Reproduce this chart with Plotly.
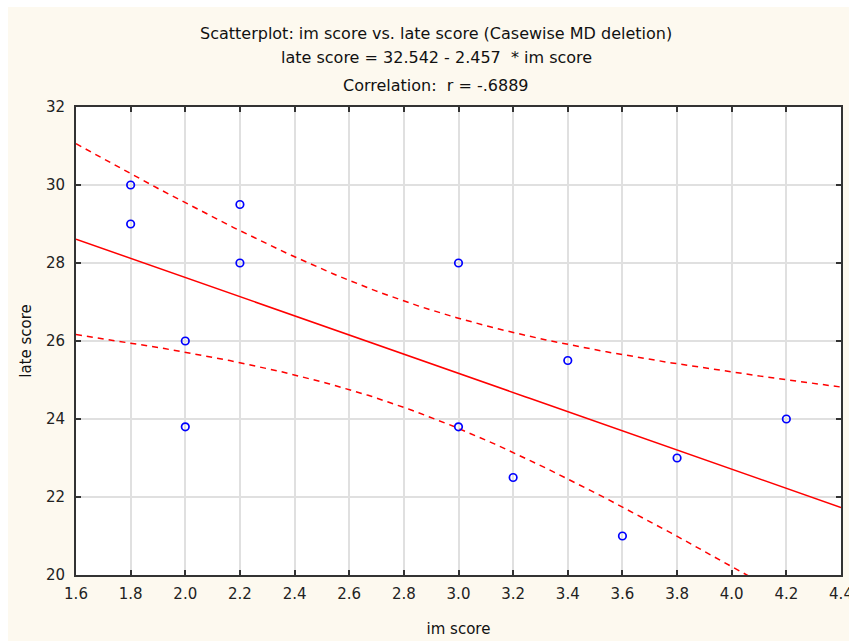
import numpy as np
import plotly.graph_objects as go

# Data
im_score = [1.8, 1.8, 2.2, 2.2, 2.0, 2.0, 3.0, 3.0, 3.4, 3.2, 3.6, 3.8, 4.2]
late_score = [30.0, 29.0, 29.5, 28.0, 26.0, 23.8, 28.0, 23.8, 25.5, 22.5, 21.0, 23.0, 24.0]
x_ticks = [1.6, 1.8, 2.0, 2.2, 2.4, 2.6, 2.8, 3.0, 3.2, 3.4, 3.6, 3.8, 4.0, 4.2, 4.4]
y_ticks = [20, 22, 24, 26, 28, 30, 32]
title_lines = [
    "Scatterplot: im score vs. late score (Casewise MD deletion)",
    "late score = 32.542 - 2.457  * im score",
    "Correlation:  r = -.6889",
]

# Least-squares fit and 95% confidence band for the mean (as in the original software)
x = np.array(im_score)
y = np.array(late_score)
n = len(x)
b1, b0 = np.polyfit(x, y, 1)
resid = y - (b0 + b1 * x)
s = np.sqrt(np.sum(resid ** 2) / (n - 2))
sxx = np.sum((x - x.mean()) ** 2)
t_crit = 2.200985  # t(0.975, df=11)
xs = np.linspace(1.6, 4.4, 200)
fit = b0 + b1 * xs
half = t_crit * s * np.sqrt(1.0 / n + (xs - x.mean()) ** 2 / sxx)
upper = fit + half
lower = fit - half

fig = go.Figure()
fig.add_trace(go.Scatter(x=xs, y=upper, mode="lines",
                         line=dict(color="#FF0000", width=1.5, dash="6px,5px"),
                         hoverinfo="skip", showlegend=False))
fig.add_trace(go.Scatter(x=xs, y=lower, mode="lines",
                         line=dict(color="#FF0000", width=1.5, dash="6px,5px"),
                         hoverinfo="skip", showlegend=False))
fig.add_trace(go.Scatter(x=xs, y=fit, mode="lines",
                         line=dict(color="#FF0000", width=1.5),
                         hoverinfo="skip", showlegend=False))
fig.add_trace(go.Scatter(x=im_score, y=late_score, mode="markers",
                         marker=dict(symbol="circle-open", size=7.5, color="#0000FF",
                                     line=dict(width=1.7, color="#0000FF")),
                         showlegend=False))

font_family = "DejaVu Sans, Verdana, sans-serif"
axis_common = dict(
    showgrid=True, gridcolor="#E0E0E0", gridwidth=2,
    showline=True, linecolor="#333333", linewidth=2, mirror="ticks",
    ticks="inside", ticklen=5, tickwidth=1.5, tickcolor="#333333",
    zeroline=False, automargin=False,
    ticklabeloverflow="allow",
    tickfont=dict(family=font_family, size=15, color="#222222"),
)

fig.update_layout(
    width=849, height=641,
    margin=dict(l=76, r=8, t=107, b=66),
    paper_bgcolor="#FDF9EF",
    plot_bgcolor="#FFFFFF",
    font=dict(family=font_family, color="#111111"),
    xaxis=dict(range=[1.6, 4.4], tickvals=x_ticks,
               ticktext=[f"{v:.1f}" for v in x_ticks],
               title=dict(text="im score", font=dict(family=font_family, size=15), standoff=21),
               ticklabelstandoff=4,
               **axis_common),
    yaxis=dict(range=[20, 32], tickvals=y_ticks,
               ticktext=[str(v) for v in y_ticks],
               title=dict(text="late score", font=dict(family=font_family, size=15), standoff=11),
               ticklabelstandoff=6,
               **axis_common),
    shapes=[
        dict(type="rect", xref="paper", yref="paper",
             x0=(0 - 76) / 765, x1=(8 - 76) / 765, y0=-1, y1=2,
             fillcolor="#FFFFFF", line=dict(width=0)),
        dict(type="rect", xref="paper", yref="paper",
             x0=(0 - 76) / 765, x1=(849 - 76) / 765,
             y0=1 + (107 - 7) / 468, y1=1 + 107 / 468 + 0.01,
             fillcolor="#FFFFFF", line=dict(width=0)),
    ],
)

title_y_px = [33, 58, 86]
for txt, ypx in zip(title_lines, title_y_px):
    fig.add_annotation(text=txt, xref="paper", yref="paper",
                       x=(436 - 76) / 765, y=1 + (107 - ypx) / 468,
                       xanchor="center", yanchor="middle", showarrow=False,
                       font=dict(family=font_family, size=16, color="#111111"))

fig.write_html("out.html")
